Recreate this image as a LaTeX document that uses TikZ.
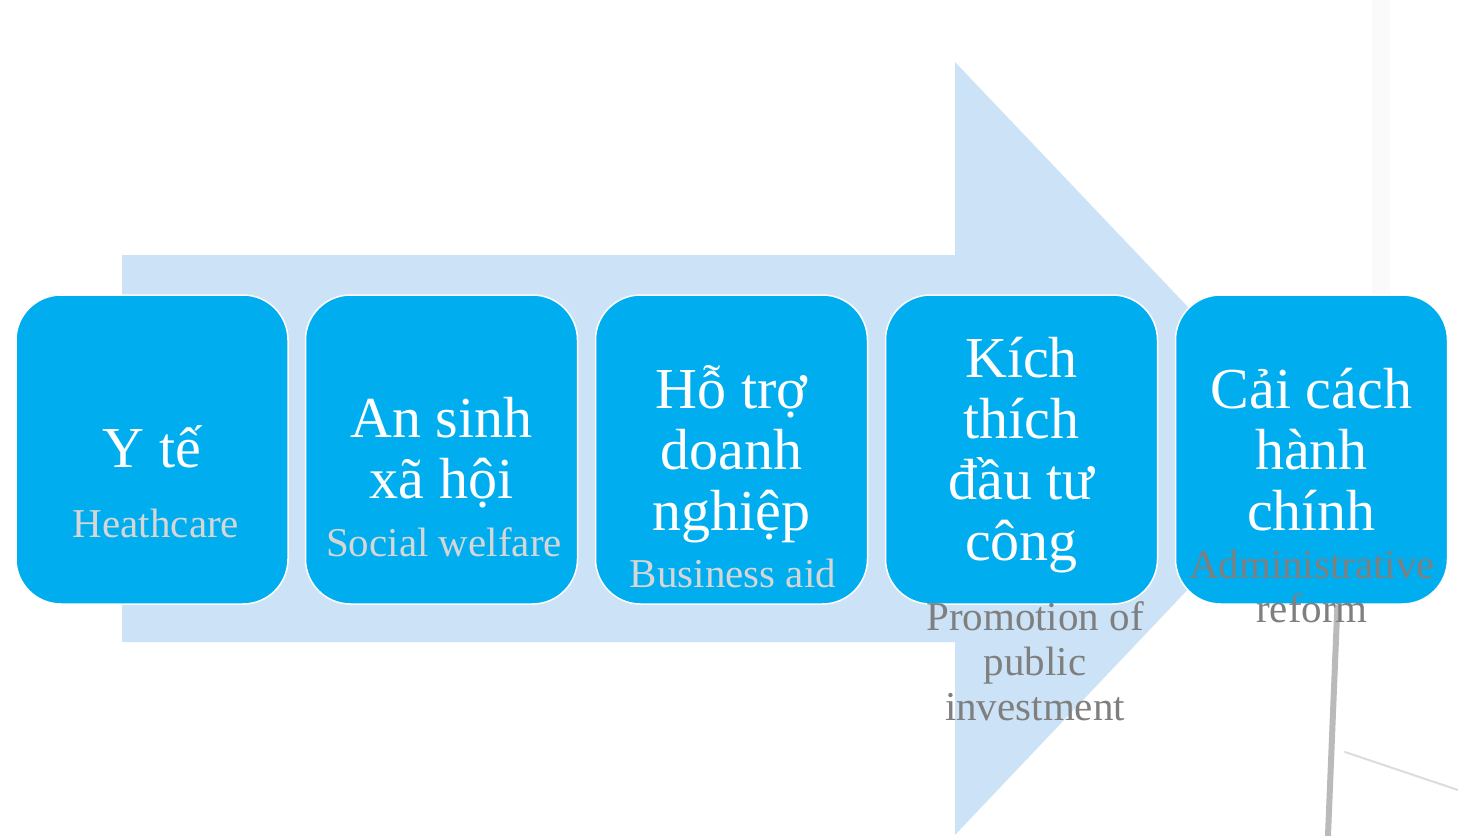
\documentclass[tikz,border=0pt]{standalone}
\usepackage{fontspec}
\setmainfont{Liberation Serif}
\definecolor{boxblue}{RGB}{0,174,239}
\definecolor{arrowblue}{RGB}{204,227,247}
\definecolor{subgrey}{RGB}{214,214,214}
\definecolor{darkgrey}{RGB}{127,127,127}
\definecolor{photogrey}{RGB}{140,140,140}
\begin{document}
\begin{tikzpicture}[x=1pt,y=-1pt,
  stepbox/.style={draw=white, line width=1.5pt, fill=boxblue, rounded corners=45pt,
    minimum width=272pt, minimum height=309pt, inner sep=0pt},
  maintxt/.style={font=\fontsize{58}{61}\selectfont, text=white, anchor=base, inner sep=0pt},
  subtxt/.style={font=\fontsize{41}{45}\selectfont, text=subgrey, anchor=base, inner sep=0pt},
  subdark/.style={subtxt, text=darkgrey},
  photoline/.style={draw=photogrey, line cap=round}]
\useasboundingbox (0,0) rectangle (1458,835);
\fill[white] (0,0) rectangle (1458,835);
% faint background photo
\fill[black!2] (1372,0) rectangle (1390,300);
\draw[photoline, line width=6pt, opacity=0.6] (1338,590) -- (1328,835);
\draw[photoline, line width=2pt, opacity=0.3] (1345,752) -- (1458,790);
% big arrow
\fill[arrowblue] (122,255) -- (955,255) -- (955,62) -- (1322,448) -- (955,835)
  -- (955,642) -- (122,642) -- cycle;
% boxes
\node[stepbox] (b1) at (152,449.5) {};
\node[stepbox] (b2) at (441.5,449.5) {};
\node[stepbox] (b3) at (731.5,449.5) {};
\node[stepbox] (b4) at (1021.5,449.5) {};
\node[stepbox] (b5) at (1311.5,449.5) {};
% box 1
\node[maintxt] (t1a) at (152,467) {Y tế};
\node[subtxt] (s1a) at (156,537) {Heathcare};
% box 2
\node[maintxt] (t2a) at (441.5,437) {An sinh};
\node[maintxt] (t2b) at (441.5,498) {xã hội};
\node[subtxt] (s2a) at (444,556) {Social welfare};
% box 3
\node[maintxt] (t3a) at (731.5,408) {Hỗ trợ};
\node[maintxt] (t3b) at (731.5,469) {doanh};
\node[maintxt] (t3c) at (731.5,530) {nghiệp};
\node[subtxt] (s3a) at (733,587) {Business aid};
% box 4
\node[maintxt] (t4a) at (1021.5,377) {Kích};
\node[maintxt] (t4b) at (1021.5,438) {thích};
\node[maintxt] (t4c) at (1021.5,499) {đầu tư};
\node[maintxt] (t4d) at (1021.5,560) {công};
\node[subdark] (s4a) at (1035,630) {Promotion of};
\node[subdark] (s4b) at (1035,675) {public};
\node[subdark] (s4c) at (1035,720) {investment};
% box 5
\node[maintxt] (t5a) at (1311.5,408) {Cải cách};
\node[maintxt] (t5b) at (1311.5,469) {hành};
\node[maintxt] (t5c) at (1311.5,530) {chính};
\node[subdark] (s5a) at (1312,578) {Administrative};
\node[subdark] (s5b) at (1312,622) {reform};
\end{tikzpicture}
\end{document}
